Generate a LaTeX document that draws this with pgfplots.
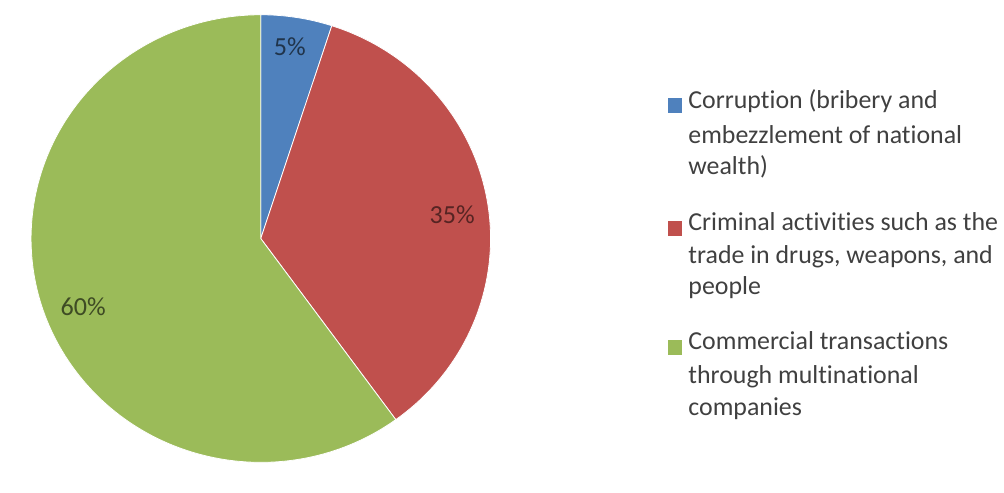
\documentclass[border=0pt]{standalone}
\usepackage{pgfplots}
\pgfplotsset{compat=1.18}
\usepackage{pgfplotstable}
\usepackage{fontspec}
\setmainfont{Carlito}[Ligatures={NoCommon}]
\definecolor{cblue}{HTML}{4F81BD}
\definecolor{cred}{HTML}{C0504D}
\definecolor{cgreen}{HTML}{9BBB59}
\definecolor{ctext}{HTML}{404040}
\pgfplotstableread{
share
5
35
60
}\piedata
\pgfplotstablegetelem{0}{share}\of\piedata \let\sA\pgfplotsretval
\pgfplotstablegetelem{1}{share}\of\piedata \let\sB\pgfplotsretval
\pgfplotstablegetelem{2}{share}\of\piedata \let\sC\pgfplotsretval
\pgfmathsetmacro{\aA}{90-3.6*\sA}
\pgfmathsetmacro{\aB}{\aA-3.6*\sB}
\pgfmathsetmacro{\aC}{\aB-3.6*\sC}
\def\cx{248.5}\def\cy{233.5}
\begin{document}
\begin{tikzpicture}
\begin{axis}[hide axis, scale only axis, width=1004pt, height=476pt,
  xmin=0, xmax=1004, ymin=0, ymax=476, clip=false]
\path (axis cs:0,0) (axis cs:1004,476);
\fill[cblue, draw=white, line width=0.8pt] (axis cs:\cx,\cy) -- ++(90:233.5pt and 227.5pt) arc[start angle=90, end angle=\aA, x radius=233.5pt, y radius=227.5pt] -- cycle;
\fill[cred, draw=white, line width=0.8pt] (axis cs:\cx,\cy) -- ++(\aA:233.5pt and 227.5pt) arc[start angle=\aA, end angle=\aB, x radius=233.5pt, y radius=227.5pt] -- cycle;
\fill[cgreen, draw=white, line width=0.8pt] (axis cs:\cx,\cy) -- ++(\aB:233.5pt and 227.5pt) arc[start angle=\aB, end angle=\aC, x radius=233.5pt, y radius=227.5pt] -- cycle;
\node[font=\fontsize{26.5}{32}\selectfont, text=cblue!40!black] at (axis cs:278,429) {\sA\%};
\node[font=\fontsize{26.5}{32}\selectfont, text=cred!45!black] at (axis cs:443,258) {\sB\%};
\node[font=\fontsize{26.5}{32}\selectfont, text=cgreen!40!black] at (axis cs:68,164) {\sC\%};
% legend
\fill[cblue] (axis cs:662,361) rectangle (axis cs:677,376);
\fill[cred] (axis cs:662,236.5) rectangle (axis cs:677,251.5);
\fill[cgreen] (axis cs:662,115.5) rectangle (axis cs:677,130.5);
\begin{scope}[every node/.style={anchor=mid west, inner sep=0pt, text=ctext, font=\fontsize{26.3}{32}\selectfont}]
\node at (axis cs:683,368) {Corruption (bribery and};
\node at (axis cs:683,333) {embezzlement of national};
\node at (axis cs:683,301) {wealth)};
\node at (axis cs:683,244) {Criminal activities such as the};
\node at (axis cs:683,211) {trade in drugs, weapons, and};
\node at (axis cs:683,179) {people};
\node at (axis cs:683,123) {Commercial transactions};
\node at (axis cs:683,89) {through multinational};
\node at (axis cs:683,56) {companies};
\end{scope}
\end{axis}
\end{tikzpicture}
\end{document}
